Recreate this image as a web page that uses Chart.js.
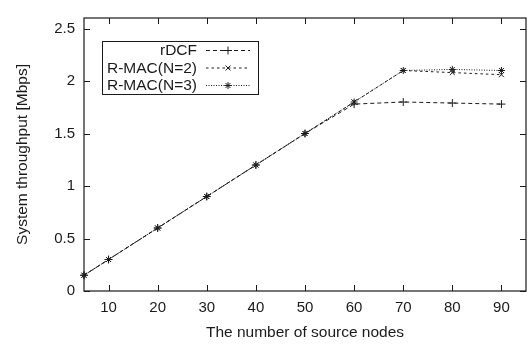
<!DOCTYPE html>
<html><head><meta charset="utf-8">
<script src="https://cdn.jsdelivr.net/npm/chart.js@4/dist/chart.umd.min.js"></script>
<style>html,body{margin:0;padding:0;background:#fff}#wrap{width:531px;height:346px}</style>
</head><body><div id="wrap"><canvas id="c" width="531" height="346"></canvas></div>
<script>
const nodes = [5, 10, 20, 30, 40, 50, 60, 70, 80, 90];
const rdcf = [0.15, 0.30, 0.60, 0.90, 1.20, 1.50, 1.78, 1.80, 1.79, 1.78];
const rmacN2 = [0.15, 0.30, 0.60, 0.90, 1.20, 1.50, 1.80, 2.10, 2.08, 2.06];
const rmacN3 = [0.15, 0.30, 0.60, 0.90, 1.20, 1.50, 1.80, 2.10, 2.11, 2.10];
const xTicks = [10, 20, 30, 40, 50, 60, 70, 80, 90];
const yTicks = [0, 0.5, 1, 1.5, 2, 2.5];
const seriesLabels = ['rDCF', 'R-MAC(N=2)', 'R-MAC(N=3)'];

const FONT = 'Liberation Sans, Arial, Helvetica, sans-serif';
const INK = '#1a1a1a';

function toXY(vals) { return nodes.map((n, i) => ({x: n, y: vals[i]})); }

const styles = [
  {dash: [4, 3], pointStyle: 'cross', radius: 4},
  {dash: [2.5, 3], pointStyle: 'crossRot', radius: 3.5},
  {dash: [1, 1.5], pointStyle: 'star', radius: 3.5}
];
const seriesData = [rdcf, rmacN2, rmacN3];

const datasets = seriesData.map((vals, i) => ({
  label: seriesLabels[i],
  data: toXY(vals),
  borderColor: INK,
  backgroundColor: INK,
  borderWidth: 1,
  borderDash: styles[i].dash,
  pointStyle: styles[i].pointStyle,
  pointRadius: styles[i].radius,
  pointBorderWidth: 1,
  pointBorderColor: INK,
  fill: false,
  tension: 0,
  clip: false
}));

const framePlugin = {
  id: 'frame',
  beforeDatasetsDraw(chart) {
    const {ctx, chartArea: ca, scales} = chart;
    ctx.save();
    ctx.strokeStyle = INK;
    ctx.lineWidth = 1.2;
    ctx.setLineDash([]);
    ctx.strokeRect(ca.left, ca.top, ca.right - ca.left, ca.bottom - ca.top);
    const tl = 6;
    ctx.lineWidth = 1;
    ctx.beginPath();
    xTicks.forEach(v => {
      const px = Math.round(scales.x.getPixelForValue(v)) + 0.5;
      ctx.moveTo(px, ca.bottom); ctx.lineTo(px, ca.bottom - tl);
      ctx.moveTo(px, ca.top); ctx.lineTo(px, ca.top + tl);
    });
    yTicks.forEach(v => {
      const py = Math.round(scales.y.getPixelForValue(v)) + 0.5;
      ctx.moveTo(ca.left, py); ctx.lineTo(ca.left + tl, py);
      ctx.moveTo(ca.right, py); ctx.lineTo(ca.right - tl, py);
    });
    ctx.stroke();
    ctx.restore();
  }
};

const legendPlugin = {
  id: 'gpLegend',
  afterDraw(chart) {
    const {ctx, chartArea: ca} = chart;
    const left = ca.left + 18, top = ca.top + 23, w = 156, h = 53;
    ctx.save();
    ctx.fillStyle = '#fff';
    ctx.fillRect(left, top, w, h);
    ctx.strokeStyle = INK;
    ctx.lineWidth = 1;
    ctx.setLineDash([]);
    ctx.strokeRect(left + 0.5, top + 0.5, w, h);
    ctx.font = '15.5px ' + FONT;
    ctx.textAlign = 'right';
    ctx.textBaseline = 'middle';
    chart.data.datasets.forEach((ds, i) => {
      const y = top + 9 + i * 17.5;
      ctx.fillStyle = INK;
      ctx.fillText(ds.label, left + 95, y + 1);
      ctx.beginPath();
      ctx.setLineDash(ds.borderDash);
      ctx.lineWidth = 1;
      ctx.strokeStyle = INK;
      ctx.moveTo(left + 104, y + 0.5);
      ctx.lineTo(left + 148, y + 0.5);
      ctx.stroke();
      ctx.setLineDash([]);
      Chart.helpers.drawPoint(ctx, {pointStyle: ds.pointStyle, radius: ds.pointRadius, rotation: 0, borderWidth: 1}, left + 126, y + 0.5);
    });
    ctx.restore();
  }
};

new Chart(document.getElementById('c'), {
  type: 'line',
  data: {datasets},
  options: {
    responsive: false,
    animation: false,
    devicePixelRatio: 1,
    layout: {padding: {top: 5, right: 2, left: 0, bottom: 0}},
    plugins: {legend: {display: false}, tooltip: {enabled: false}},
    scales: {
      x: {
        type: 'linear', min: 5, max: 95,
        afterBuildTicks: s => { s.ticks = xTicks.map(v => ({value: v})); },
        afterFit: s => { s.height = 55; },
        grid: {display: false, drawTicks: false},
        border: {display: false},
        ticks: {color: INK, font: {family: FONT, size: 15}, padding: 8, maxRotation: 0},
        title: {display: true, text: 'The number of source nodes', color: INK,
                font: {family: FONT, size: 15.5}, padding: {top: 0, bottom: 4}}
      },
      y: {
        type: 'linear', min: 0, max: 2.6,
        afterBuildTicks: s => { s.ticks = yTicks.map(v => ({value: v})); },
        afterFit: s => { s.width = 84; },
        grid: {display: false, drawTicks: false},
        border: {display: false},
        ticks: {color: INK, font: {family: FONT, size: 15}, padding: 9,
                callback: v => String(v)},
        title: {display: true, text: 'System throughput [Mbps]', color: INK,
                font: {family: FONT, size: 15.5}, padding: {top: 13, bottom: 0}}
      }
    }
  },
  plugins: [framePlugin, legendPlugin]
});
</script>
</body></html>
